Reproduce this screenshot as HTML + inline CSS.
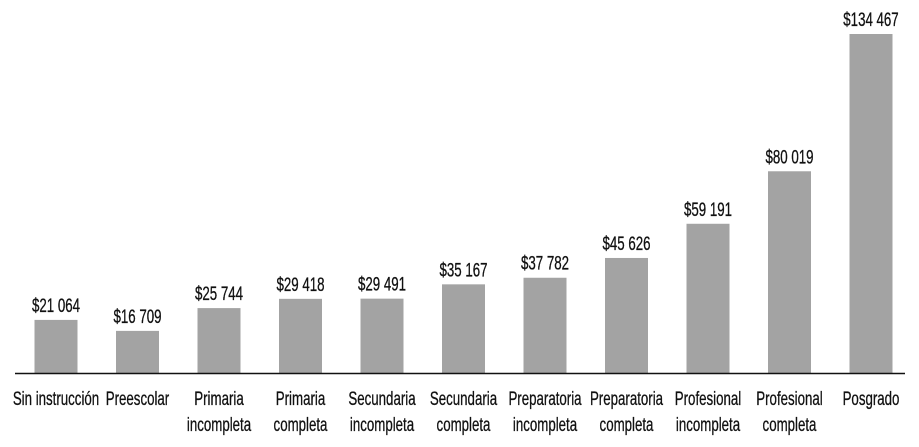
<!DOCTYPE html>
<html><head><meta charset="utf-8"><style>
html,body{margin:0;padding:0;background:#fff;}
svg{display:block;font-family:"Liberation Sans Narrow","Liberation Sans",sans-serif;}
</style></head><body>
<svg id="chart" width="919" height="447"></svg>
<script>
const categories = [["Sin instrucción"],["Preescolar"],["Primaria","incompleta"],["Primaria","completa"],["Secundaria","incompleta"],["Secundaria","completa"],["Preparatoria","incompleta"],["Preparatoria","completa"],["Profesional","incompleta"],["Profesional","completa"],["Posgrado"]];
const values = [21064,16709,25744,29418,29491,35167,37782,45626,59191,80019,134467];
const valueLabels = ["$21 064","$16 709","$25 744","$29 418","$29 491","$35 167","$37 782","$45 626","$59 191","$80 019","$134 467"];

const svg = document.getElementById('chart');
const NS = 'http://www.w3.org/2000/svg';
const baseY = 373, topY = 34, maxV = 134467;
const x0 = 56, step = 81.5, bw = 43;
function xScale(i){ return x0 + i*step; }
function yScale(v){ return baseY - (v/maxV)*(baseY-topY); }
function txt(x,y,s,name){
  const g = document.createElementNS(NS,'g');
  g.setAttribute('transform','translate('+x+','+y+') scale(0.7,1)');
  const t = document.createElementNS(NS,'text');
  t.setAttribute('text-anchor','middle');
  t.setAttribute('font-size','19');
  t.setAttribute('fill','#111');
  t.setAttribute('stroke','#111');
  t.setAttribute('stroke-width','0.3');
  t.textContent = s;
  
  
  g.appendChild(t);
  svg.appendChild(g);
}
values.forEach((v,i)=>{
  const cx = xScale(i), y = yScale(v);
  const r = document.createElementNS(NS,'rect');
  r.setAttribute('x', cx-bw/2); r.setAttribute('y', y);
  r.setAttribute('width', bw); r.setAttribute('height', baseY-y);
  r.setAttribute('fill','#a3a3a3');
  
  
  svg.appendChild(r);
  txt(cx, y-8, valueLabels[i], 'value-label');
  categories[i].forEach((line,j)=>{
    txt(cx, 405+j*26, line, 'category-label');
  });
});
const ax = document.createElementNS(NS,'line');
ax.setAttribute('x1',15); ax.setAttribute('x2',905);
ax.setAttribute('y1',baseY+0.5); ax.setAttribute('y2',baseY+0.5);
ax.setAttribute('stroke','#111'); ax.setAttribute('stroke-width','1.5');


svg.appendChild(ax);
</script>
</body></html>
